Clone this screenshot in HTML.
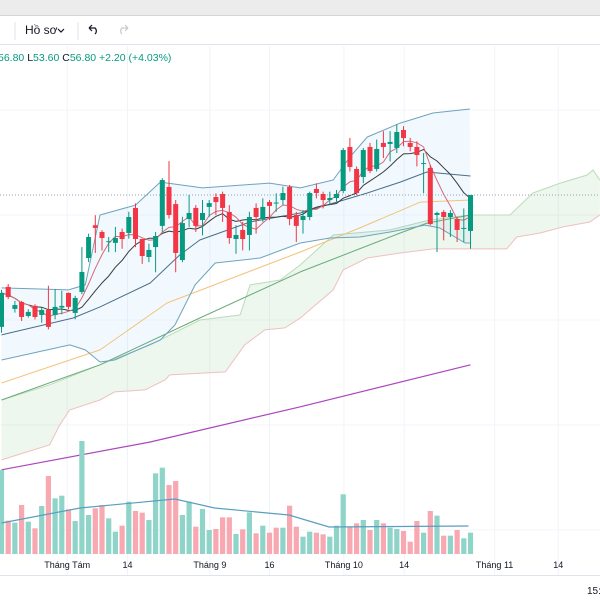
<!DOCTYPE html>
<html><head><meta charset="utf-8">
<style>
html,body{margin:0;padding:0;background:#fff;width:600px;height:600px;overflow:hidden;font-family:"Liberation Sans","Noto Sans CJK SC",sans-serif}
svg text{font-family:"Liberation Sans","Noto Sans CJK SC",sans-serif}
</style></head>
<body>
<svg id="chart" width="600" height="600" viewBox="0 0 600 600" xmlns="http://www.w3.org/2000/svg">
  <rect x="0" y="0" width="600" height="600" fill="#fff"/>
  <rect x="0" y="0" width="600" height="15" fill="#ececed"/>
  <line x1="0" y1="15.5" x2="600" y2="15.5" stroke="#d6d6d8"/>
  <g>
    <line x1="15" y1="22" x2="15" y2="40" stroke="#e0e3eb"/>
    <text x="25" y="34" font-size="12" fill="#131722">Hồ sơ</text>
    <path d="M58 29 l3 3 l3 -3" fill="none" stroke="#131722" stroke-width="1.2"/>
    <line x1="78" y1="22" x2="78" y2="40" stroke="#e0e3eb"/>
    <path d="M89 28 h6 a4 4 0 0 1 0 6 M89 28 l3 -3 M89 28 l3 3" fill="none" stroke="#131722" stroke-width="1.2"/>
    <path d="M128 28 h-6 a4 4 0 0 0 0 6 M128 28 l-3 -3 M128 28 l-3 3" fill="none" stroke="#c8cad0" stroke-width="1.2"/>
  </g>
  <line x1="0" y1="44.5" x2="600" y2="44.5" stroke="#e0e3eb"/>
  <g id="grid"></g>
  <text x="-2" y="61" font-size="10.5" fill="#089981">56.80 <tspan fill="#131722">L</tspan>53.60 <tspan fill="#131722">C</tspan>56.80 +2.20 (+4.03%)</text>
  <g id="plot"></g>
  <line x1="0" y1="575.5" x2="600" y2="575.5" stroke="#e0e3eb"/>
  <g id="xaxis"></g>
  <text x="587" y="594" font-size="10" fill="#131722">15:</text>
</svg>
<script>
// ---- data ----
const opens  = [48.95,51.33,50.02,50.43,49.6,50.2,49.66,49.96,49.66,50.1,50.97,49.78,51.03,53.05,55.0,54.6,54.0,53.95,54.6,54.54,56.03,54.18,53.11,53.7,54.96,57.28,56.26,52.93,55.37,56.03,55.31,56.09,56.68,56.86,55.79,54.18,54.72,54.42,56.03,55.37,56.38,56.3,56.5,57.28,55.61,55.31,55.49,57.16,56.86,56.5,56.62,57.04,59.66,58.35,57.87,59.66,58.35,59.9,59.84,59.6,60.67,59.9,59.66,58.65,58.41,55.61,55.79,55.49,55.37,54.78,54.66];
const highs  = [51.15,51.5,50.5,50.5,50.0,50.3,50.1,51.4,51.2,51.1,51.0,50.8,53.7,54.5,55.6,54.7,54.3,54.9,54.8,55.8,56.3,54.2,53.9,54.6,57.8,58.82,56.5,55.5,56.8,56.2,56.5,56.5,56.9,57.0,56.2,55.0,55.2,55.8,56.3,56.6,56.5,56.9,57.3,57.4,55.8,55.9,57.0,57.5,57.0,57.0,57.1,59.6,60.2,58.5,59.6,59.9,60.1,60.6,60.6,61.0,60.9,60.2,60.0,59.3,58.6,55.8,55.9,55.9,55.5,56.0,56.8];
const lows   = [48.6,50.6,49.8,49.3,49.5,49.4,49.2,48.8,49.4,49.7,50.0,49.4,50.9,52.8,53.35,53.5,53.4,53.4,53.6,54.2,53.7,52.7,52.8,52.2,54.6,55.4,52.2,52.8,54.9,54.6,54.4,55.5,55.6,55.2,53.9,53.3,53.5,53.5,54.5,55.2,55.3,55.8,56.2,55.0,54.0,54.5,55.3,56.6,56.0,56.2,56.4,56.9,58.2,56.8,57.5,58.1,58.2,59.0,58.8,59.3,59.7,59.4,58.5,56.9,55.0,53.4,54.1,54.3,54.0,54.0,53.6];
const closes = [50.97,50.73,50.25,49.54,49.84,49.54,49.96,48.95,50.14,50.2,50.14,50.67,52.22,54.3,54.84,54.24,54.05,54.24,54.18,55.49,54.18,53.17,53.53,54.36,57.69,55.61,53.35,55.13,55.73,54.96,55.73,56.32,56.38,56.03,54.24,54.42,54.18,55.49,55.49,56.09,56.15,56.35,56.92,55.37,54.96,55.55,56.92,56.92,56.5,56.62,56.86,59.48,58.47,56.92,59.48,58.23,59.54,59.66,59.96,60.55,60.19,59.66,59.18,58.7,55.07,55.73,55.49,55.73,54.72,54.84,56.8];
const volumes = [252,100,94,147,97,77,144,234,167,175,134,99,339,117,137,147,107,67,85,157,129,124,102,242,259,207,219,117,157,82,135,72,75,110,110,60,74,125,62,85,64,79,79,145,82,52,67,64,59,52,85,179,82,92,102,72,102,92,79,75,69,37,99,64,129,115,55,55,72,47,64];
const volUp = [1,0,1,0,1,0,1,0,1,1,0,1,1,1,0,0,1,1,0,1,0,0,1,1,1,0,0,1,1,0,1,1,0,0,0,1,0,1,0,1,0,0,1,0,0,1,1,0,0,1,1,1,0,0,1,0,1,0,1,1,0,0,0,1,0,1,0,1,0,1,1];
const volMaIdx = [0,11.7,25.9,31.8,42.9,48.9,69.7];
const volMaVal = [93,138,165,138,117,81,84];
const bbUpIdx = [0,10,12.5,14.7,20,23.7,30,40,44.6,49.5,52,54.6,59.5,64.4,69.9];
const bbUpVal = [51.27,51.15,51.45,55.61,56.2,57.57,57.22,57.51,57.22,57.69,59.06,60.25,61.08,61.68,61.92];
const bbLoIdx = [0,10.2,12.5,14.7,16.9,23.7,25.9,28.9,31.9,38.6,44.6,49,53.5,58,63.2,65.4,69.2,70];
const bbLoVal = [46.98,47.88,47.58,46.86,46.98,48.17,49.07,51.45,52.75,53.05,53.94,54.24,54.3,54.6,55.01,54.84,53.94,53.94];
const bbMidIdx = [0,10.7,14.7,22.2,26.6,29.6,37.1,44.6,54.6,59.5,63.5,70];
const bbMidVal = [48.47,49.48,50.14,51.56,53.23,54.12,55.19,55.73,56.92,57.57,58.17,57.93];
const ma50Idx = [0,14.7,24.7,44.6,53.5,62.5,70];
const ma50Val = [45.61,47.58,50.37,53.41,54.84,56.38,56.5];
const ma100Idx = [0,14.7,29.6,44.6,59.5,63.5,70];
const ma100Val = [44.6,46.69,49.48,52.22,54.54,55.13,55.61];
const ma200Idx = [0,22.2,44.6,70];
const ma200Val = [40.44,42.1,44.19,46.69];
const cloudTopIdx = [0,7.2,14.7,22.2,29.6,35.6,37.1,41.6,44.6,49.5,58,63.9,70,75.9,79.3,83.4,87.4,88.3,89.3];
const cloudTopVal = [44.6,45.5,46.69,47.88,49.36,49.66,51.45,51.74,52.64,54.42,54.72,55.31,55.61,55.61,56.92,57.51,57.99,58.29,57.69];
const cloudBotIdx = [0,7.2,8.7,10.2,14.7,16.9,21.4,24.4,25.1,33.4,36.3,39.3,42.3,44.6,49.5,51,54.6,59.5,64.4,75.4,76.9,80.4,83.8,87.8,89.3];
const cloudBotVal = [41.03,41.93,43.12,44.01,44.6,45.08,45.2,45.79,46.09,46.27,47.88,48.77,48.89,49.48,51.15,52.34,53.05,53.35,53.59,53.59,54.3,54.54,54.9,55.19,55.61];
const lastPrice = 56.8;
const xTickIdx = [9.8,18.8,31.1,40,51.1,60.1,73.6,83.1];
const xTickLabels = ["Tháng Tám","14","Tháng 9","16","Tháng 10","14","Tháng 11","14"];

// ---- scales ----
const NS = "http://www.w3.org/2000/svg";
const xS = i => 1.5 + i * 6.7;
const yS = p => 195 - (p - 56.8) * 16.8;
const vS = v => 554 - v / 3;
function mk(tag, attrs, parent) {
  const el = document.createElementNS(NS, tag);
  for (const k in attrs) el.setAttribute(k, attrs[k]);
  parent.appendChild(el);
  return el;
}
const plot = document.getElementById('plot');
const grid = document.getElementById('grid');
function pts(idx, val, ys) { return idx.map((d, k) => xS(d).toFixed(1) + ',' + ys(val[k]).toFixed(1)); }

// grid
xTickIdx.forEach(d => {
  const l = mk('line', {x1: xS(d), x2: xS(d), y1: 46, y2: 575, stroke: '#f0f3fa'}, grid);
  
  
});
[110, 215, 320, 425, 530].forEach(y => {
  const l = mk('line', {x1: 0, x2: 600, y1: y, y2: y, stroke: '#f3f5fa'}, grid);
  
  
});

// cloud
const cTop = pts(cloudTopIdx, cloudTopVal, yS);
const cBot = pts(cloudBotIdx, cloudBotVal, yS).reverse();
let e = mk('polygon', {points: cTop.concat(cBot).join(' '), fill: 'rgba(76,175,80,0.10)'}, plot);


e = mk('polyline', {points: cTop.join(' '), fill: 'none', stroke: '#b9dcb9', 'stroke-width': 1}, plot);


e = mk('polyline', {points: pts(cloudBotIdx, cloudBotVal, yS).join(' '), fill: 'none', stroke: '#efc0c0', 'stroke-width': 1}, plot);



// bollinger fill
const bu = pts(bbUpIdx, bbUpVal, yS), bl = pts(bbLoIdx, bbLoVal, yS);
e = mk('polygon', {points: bu.concat(bl.slice().reverse()).join(' '), fill: 'rgba(33,150,243,0.06)'}, plot);



function line(idx, val, color, name, w) {
  const l = mk('polyline', {points: pts(idx, val, yS).join(' '), fill: 'none', stroke: color, 'stroke-width': w || 1, 'stroke-linejoin': 'round'}, plot);
  
  
}
line(ma200Idx, ma200Val, '#ab47bc', 'ma200-line', 1.2);
line(ma100Idx, ma100Val, '#6aaa7a', 'ma100-line');
line(ma50Idx, ma50Val, '#f3c27a', 'ma50-line');
line(bbUpIdx, bbUpVal, '#6fa3bd', 'bollinger-upper');
line(bbLoIdx, bbLoVal, '#6fa3bd', 'bollinger-lower');
line(bbMidIdx, bbMidVal, '#4a6f8a', 'bollinger-middle');

// short MAs computed from closes
function sma(n) {
  return closes.map((c, i) => { const s = closes.slice(Math.max(0, i - n + 1), i + 1); return s.reduce((a, b) => a + b, 0) / s.length; });
}
const allIdx = closes.map((c, i) => i);
line(allIdx, sma(10), '#3b3b3b', 'ma10-line');
line(allIdx, sma(5), '#d46a75', 'ma5-line');

// last price dotted
e = mk('line', {x1: 0, x2: 600, y1: yS(lastPrice), y2: yS(lastPrice), stroke: '#9aa0aa', 'stroke-dasharray': '1 2'}, plot);



// candles
closes.forEach((c, i) => {
  const up = c >= opens[i];
  const col = up ? '#089981' : '#f23645';
  const x = xS(i);
  const g = mk('g', {}, plot);
  
  
  mk('line', {x1: x, x2: x, y1: yS(highs[i]), y2: yS(lows[i]), stroke: col, 'stroke-width': 1}, g);
  const top = yS(Math.max(c, opens[i])), bot = yS(Math.min(c, opens[i]));
  mk('rect', {x: x - 2.5, y: top, width: 5, height: Math.max(1, bot - top), fill: col}, g);
});

// volume
volumes.forEach((v, i) => {
  const r = mk('rect', {x: xS(i) - 2.6, y: vS(v), width: 5.2, height: 554 - vS(v), fill: volUp[i] ? '#8fd4c9' : '#f7a8b0'}, plot);
  
  
});
e = mk('polyline', {points: pts(volMaIdx, volMaVal, vS).join(' '), fill: 'none', stroke: '#5a9ec0', 'stroke-width': 1.2}, plot);



// x axis
const xa = document.getElementById('xaxis');
xTickIdx.forEach((d, k) => {
  const t = mk('text', {x: xS(d), y: 568, 'font-size': 9, 'text-anchor': 'middle', fill: '#131722'}, xa);
  
  
  t.textContent = xTickLabels[k];
});
</script>
</body></html>
